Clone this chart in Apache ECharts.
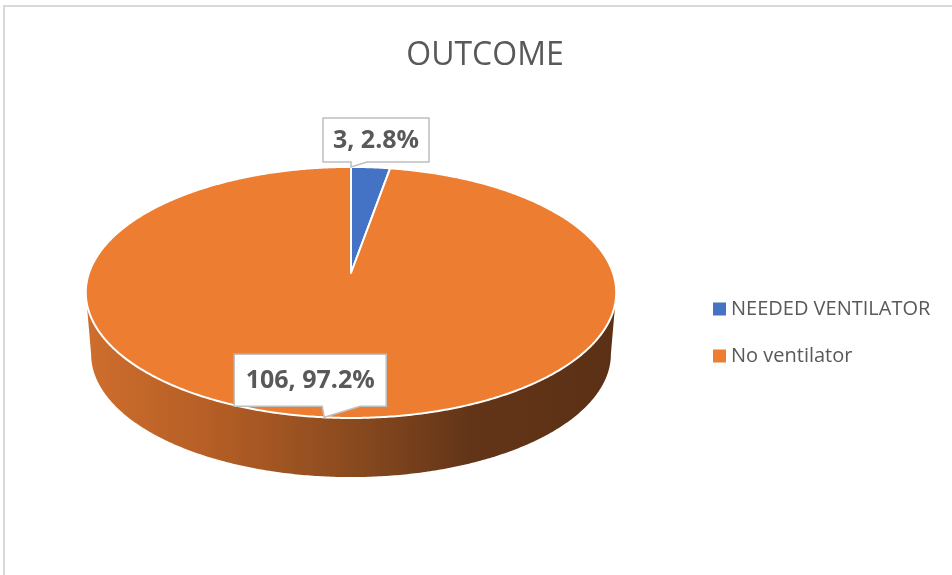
<!DOCTYPE html>
<html>
<head>
<meta charset="utf-8">
<script src="https://cdn.jsdelivr.net/npm/echarts@6/dist/echarts.min.js"></script>
<style>
  html, body { margin: 0; padding: 0; background: #ffffff; }
  #chart { width: 952px; height: 575px; }
</style>
</head>
<body>
<div id="chart"></div>
<script>
// Outcome categories and patient counts
const categories = ['NEEDED VENTILATOR', 'No ventilator'];
const counts = [3, 106];
const sliceColors = ['#4472C4', '#ED7D31'];

const total = counts.reduce((a, b) => a + b, 0);

// Tilted-disc projection: circle of radius 1 seen from above-front
const CX = 351, CY = 273;      // pie centre on screen
const RX = 262, RY = 122.5;    // horizontal / vertical radii
const PERSP = 0.155;           // front edge looks larger than back edge
const DEPTH = 62;              // wall thickness
const BOTTOM_SCALE = 0.98;     // lower rim is slightly further away

function topPoint(phi) {
  const u = Math.sin(phi), v = -Math.cos(phi);
  const w = 1 - PERSP * v;
  return [CX + RX * u / w, CY + RY * v / w];
}
function bottomPoint(phi) {
  const p = topPoint(phi);
  return [CX + BOTTOM_SCALE * (p[0] - CX), CY + BOTTOM_SCALE * (p[1] - CY) + DEPTH];
}
function arc(fn, a, b) {
  const pts = [];
  const n = Math.max(2, Math.ceil(Math.abs(b - a) / (Math.PI / 360)));
  for (let i = 0; i <= n; i++) pts.push(fn(a + (b - a) * i / n));
  return pts;
}

// Visible (front) part of the wall lies between the two silhouette angles
const FRONT_R = Math.acos(-PERSP);
const FRONT_L = 2 * Math.PI - FRONT_R;

// Callout boxes, positioned relative to the pointer tip
const callouts = [
  { frac: 0.0, left: -28, width: 106, bottom: -5, height: 44, baseL: 0, baseR: 16 },
  { frac: 0.5, left: -90, width: 152, bottom: -11, height: 52, baseL: -2, baseR: 36 }
];

function sliceAngles(idx) {
  let before = 0;
  for (let i = 0; i < idx; i++) before += counts[i];
  const a = before / total * 2 * Math.PI;
  const b = (before + counts[idx]) / total * 2 * Math.PI;
  return [a, b];
}

function makeRenderItem(idx) {
  return function (params, api) {
    const [a, b] = sliceAngles(idx);
    const children = [];

    // side wall (front half only)
    const wa = Math.max(a, FRONT_R), wb = Math.min(b, FRONT_L);
    if (wb > wa) {
      const topArc = arc(topPoint, wa, wb);
      const botArc = arc(bottomPoint, wa, wb).reverse();
      children.push({
        type: 'polygon',
        z2: 1,
        shape: { points: topArc.concat(botArc) },
        style: {
          fill: new echarts.graphic.LinearGradient(CX - RX - 4, 0, CX + RX + 4, 0, [
            { offset: 0, color: '#cf6e2d' },
            { offset: 0.25, color: '#b35d25' },
            { offset: 0.5, color: '#8a4a1f' },
            { offset: 0.72, color: '#633518' },
            { offset: 1, color: '#5b3014' }
          ], true)
        }
      });
    }

    // top face
    const face = [[CX, CY]].concat(arc(topPoint, a, b));
    children.push({
      type: 'polygon',
      z2: 10,
      shape: { points: face },
      style: { fill: sliceColors[idx], stroke: '#ffffff', lineWidth: 2, lineJoin: 'round' }
    });

    // data callout
    const c = callouts[idx];
    const tip = topPoint(a + (b - a) * c.frac);
    const L = tip[0] + c.left, R = L + c.width;
    const B = tip[1] + c.bottom, T = B - c.height;
    const pct = (counts[idx] / total * 100).toFixed(1);
    children.push({
      type: 'polygon',
      z2: 20,
      shape: {
        points: [[L, T], [R, T], [R, B], [tip[0] + c.baseR, B], tip, [tip[0] + c.baseL, B], [L, B]]
      },
      style: { fill: '#ffffff', stroke: '#bfbfbf', lineWidth: 1.5 }
    });
    children.push({
      type: 'text',
      z2: 21,
      style: {
        x: (L + R) / 2,
        y: (T + B) / 2 + 1,
        text: counts[idx] + ', ' + pct + '%',
        align: 'center',
        verticalAlign: 'middle',
        fill: '#595959',
        font: 'bold 25px "Open Sans", sans-serif'
      }
    });

    return { type: 'group', children: children };
  };
}

const chart = echarts.init(document.getElementById('chart'), null, { renderer: 'canvas' });

chart.setOption({
  animation: false,
  backgroundColor: '#ffffff',
  title: {
    text: 'OUTCOME',
    left: 480,
    top: 35,
    textAlign: 'center',
    textStyle: { fontFamily: '"Open Sans", sans-serif', fontSize: 32, fontWeight: 'normal', color: '#595959' }
  },
  legend: {
    orient: 'vertical',
    left: 708,
    top: 292,
    icon: 'rect',
    itemWidth: 13,
    itemHeight: 13,
    itemGap: 23,
    data: categories,
    textStyle: { fontFamily: '"Open Sans", sans-serif', fontSize: 20, lineHeight: 24, color: '#595959' }
  },
  graphic: [{
    type: 'rect',
    shape: { x: 4, y: 6, width: 980, height: 620 },
    style: { fill: 'none', stroke: '#d9d9d9', lineWidth: 2 },
    silent: true
  }],
  series: categories.map((name, i) => ({
    type: 'custom',
    name: name,
    coordinateSystem: 'none',
    itemStyle: { color: sliceColors[i] },
    data: [counts[i]],
    renderItem: makeRenderItem(i)
  }))
});
</script>
</body>
</html>
